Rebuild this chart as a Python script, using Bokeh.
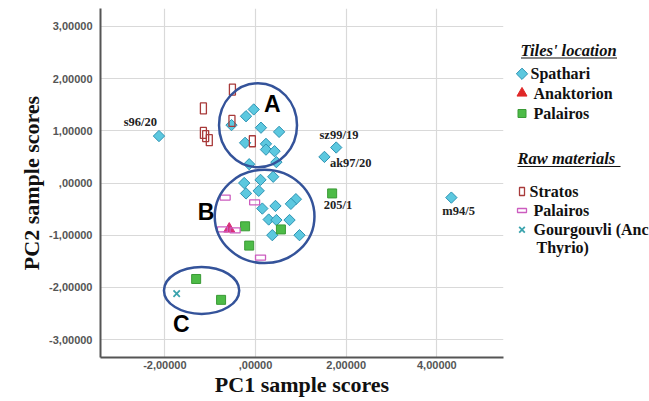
from bokeh.plotting import figure
from bokeh.layouts import row
from bokeh.models import Range1d, FixedTicker
from bokeh.core.properties import value
from bokeh.embed import file_html
from bokeh.resources import INLINE

# ---------------- data ----------------
spathari_x = [-2.13, -0.53, -0.21, -0.04, 0.12, 0.52, -0.23, 0.23, 0.23, 0.42, -0.14, 0.46,
              1.78, 1.52, 0.39, -0.25, 0.11, -0.21, 0.07, 0.89, 0.78, 0.44, 0.15, 0.29,
              0.46, 0.75, 0.37, 0.97, 4.32]
spathari_y = [0.90, 1.11, 1.28, 1.41, 1.06, 0.98, 0.77, 0.75, 0.64, 0.61, 0.36, 0.40,
              0.68, 0.50, 0.12, 0.00, 0.06, -0.20, -0.15, -0.31, -0.40, -0.44, -0.49, -0.70,
              -0.71, -0.71, -1.00, -1.00, -0.28]
anaktorion_x = [-0.58]
anaktorion_y = [-0.88]
palairos_x = [1.69, -0.23, 0.56, -0.14, -1.31, -0.76]
palairos_y = [-0.20, -0.83, -0.89, -1.20, -1.84, -2.24]

stratos_x = [-0.51, -1.15, -0.52, -1.15, -1.10, -1.02, -0.07]
stratos_y = [1.79, 1.43, 1.19, 0.96, 0.90, 0.82, 0.80]
palraw_x = [-0.67, -0.02, -0.73, -0.45, 0.11]
palraw_y = [-0.28, -0.37, -0.89, -0.91, -1.43]
gourg_x = [-1.74]
gourg_y = [-2.12]

point_names = ["s96/20", "sz99/19", "ak97/20", "205/1", "m94/5"]
point_name_x = [-2.54, 1.84, 2.10, 1.82, 4.48]
point_name_y = [1.17, 0.92, 0.38, -0.43, -0.53]

clusters = ["A", "B", "C"]
cluster_x = [0.055, 0.20, -1.19]
cluster_y = [1.108, -0.64, -2.06]
cluster_w = [1.72, 2.20, 1.66]
cluster_h = [1.61, 1.79, 0.90]
cluster_label_x = [0.37, -1.09, -1.64]
cluster_label_y = [1.52, -0.55, -2.71]

x_ticks = [-2, 0, 2, 4]
x_tick_labels = ["-2,00000", ",00000", "2,00000", "4,00000"]
y_ticks = [-3, -2, -1, 0, 1, 2, 3]
y_tick_labels = ["-3,00000", "-2,00000", "-1,00000", ",00000", "1,00000", "2,00000", "3,00000"]

legend1_title = "Tiles' location"
legend1_labels = ["Spathari", " Anaktorion", "Palairos"]
legend2_title = "Raw materials"
legend2_labels = ["Stratos", "Palairos", "Gourgouvli (Anc", "Thyrio)"]

# ---------------- styles ----------------
C_DIAM, C_DIAM_L = "#5cc8df", "#2e93b3"
C_GREEN, C_GREEN_L = "#4dbb47", "#3a9a36"
C_TRI_PLOT, C_TRI_LEG = "#d8307a", "#e02828"
C_STRATOS = "#a83a3a"
C_PALRAW = "#cc5cbf"
C_GOURG = "#3aa3ad"
C_ELL = "#34539a"
SERIF = "Liberation Serif"
SANS = "Liberation Sans"

W_MAIN, W_LEG, H = 505, 144, 401
B_TOP, B_BOTTOM = 8, 44

p = figure(width=W_MAIN, height=H, output_backend="svg", toolbar_location=None,
           x_range=Range1d(-3.42, 5.47), y_range=Range1d(-3.345, 3.345),
           min_border_left=100, min_border_right=2, min_border_top=B_TOP, min_border_bottom=B_BOTTOM)
p.outline_line_color = None
p.background_fill_color = "white"
p.border_fill_color = "white"

for ax in (p.xaxis[0], p.yaxis[0]):
    ax.major_tick_line_color = None
    ax.minor_tick_line_color = None
    ax.major_tick_out = 0
    ax.major_tick_in = 0
    ax.axis_line_color = "#555555"
    ax.axis_line_width = 2
    ax.major_label_text_font = SANS
    ax.major_label_text_font_size = "11px"
    ax.major_label_text_font_style = "bold"
    ax.major_label_text_color = "#555555"
    ax.axis_label_text_font = SERIF
    ax.axis_label_text_font_size = "22px"
    ax.axis_label_text_font_style = "bold"
    ax.axis_label_text_color = "#111111"

p.xaxis[0].ticker = FixedTicker(ticks=x_ticks)
p.xaxis[0].major_label_overrides = dict(zip(x_ticks, x_tick_labels))
p.xaxis[0].axis_label = "PC1 sample scores"
p.xaxis[0].major_label_standoff = 3
p.xaxis[0].axis_label_standoff = 0
p.yaxis[0].ticker = FixedTicker(ticks=y_ticks)
p.yaxis[0].major_label_overrides = dict(zip(y_ticks, y_tick_labels))
p.yaxis[0].axis_label = "PC2 sample scores"
p.yaxis[0].major_label_standoff = 8
p.yaxis[0].axis_label_standoff = 2

p.xgrid.grid_line_color = "#d9d9d9"
p.ygrid.grid_line_color = "#d9d9d9"
p.xgrid.grid_line_width = 1.2
p.ygrid.grid_line_width = 1.2

# tiles
p.scatter(spathari_x, spathari_y, marker="square", angle=0.7854, size=8,
          fill_color=C_DIAM, line_color=C_DIAM_L, line_width=1)
p.scatter(palairos_x, palairos_y, marker="square", size=9,
          fill_color=C_GREEN, line_color=C_GREEN_L, line_width=1)
p.scatter(anaktorion_x, anaktorion_y, marker="triangle", size=11,
          fill_color=C_TRI_PLOT, line_color=C_TRI_PLOT)
# raw materials
p.rect(stratos_x, stratos_y, width=6, height=11, width_units="screen", height_units="screen",
       fill_color=None, line_color=C_STRATOS, line_width=1.3)
p.rect(palraw_x, palraw_y, width=10, height=5, width_units="screen", height_units="screen",
       fill_color=None, line_color=C_PALRAW, line_width=1.3)
p.scatter(gourg_x, gourg_y, marker="x", size=9, line_color=C_GOURG, line_width=1.8)

# clusters
p.ellipse(cluster_x, cluster_y, width=cluster_w, height=cluster_h,
          fill_color=None, line_color=C_ELL, line_width=2.5)
p.text(cluster_label_x, cluster_label_y, text=clusters, text_font=value(SANS),
       text_font_size="23px", text_font_style="bold", text_color="#000000",
       text_align="center", text_baseline="middle")

# point labels
p.text(point_name_x, point_name_y, text=point_names, text_font=value(SERIF),
       text_font_size="12.5px", text_font_style="bold", text_color="#222222",
       text_align="center", text_baseline="middle")

# ---------------- legend panel (pixel coordinates of the page) ----------------
q = figure(width=W_LEG, height=H, output_backend="svg", toolbar_location=None,
           x_range=Range1d(0, W_LEG), y_range=Range1d(H - B_BOTTOM, B_TOP),
           min_border_left=0, min_border_right=0, min_border_top=B_TOP, min_border_bottom=B_BOTTOM)
q.axis.visible = False
q.grid.visible = False
q.outline_line_color = None
q.border_fill_color = "white"
q.background_fill_color = "white"

mx = 16.5                      # marker column
t1_y, t2_y = 50, 158
rows1 = [73.3, 92.7, 113.0]
rows2 = [191.0, 210.0, 229.3, 246.7]
tx1 = [25, 28, 28]
tx2 = [24, 28, 28, 31]

title_kw = dict(text_font=value(SERIF), text_font_size="16.5px", text_font_style="bold italic",
                text_color="#111111", text_baseline="middle", text_align="left")
q.text([15], [t1_y], text=[legend1_title], **title_kw)
q.text([12], [t2_y], text=[legend2_title], **title_kw)
q.segment([15.5], [t1_y + 7.5], [111.5], [t1_y + 7.5], line_color="#111111", line_width=1.2)
q.segment([12], [t2_y + 8], [115], [t2_y + 8], line_color="#111111", line_width=1.2)

item_kw = dict(text_font=value(SERIF), text_font_size="16px", text_font_style="bold",
               text_color="#111111", text_baseline="middle", text_align="left")
q.text(tx1, rows1, text=legend1_labels, **item_kw)
q.text(tx2, rows2, text=legend2_labels, **item_kw)

q.scatter([mx], [rows1[0]], marker="square", angle=0.7854, size=8,
          fill_color=C_DIAM, line_color=C_DIAM_L)
q.scatter([mx], [rows1[1]], marker="triangle", size=10,
          fill_color=C_TRI_LEG, line_color=C_TRI_LEG)
q.scatter([mx], [rows1[2]], marker="square", size=8,
          fill_color=C_GREEN, line_color=C_GREEN_L)
q.rect([mx], [rows2[0]], width=5, height=8, width_units="screen", height_units="screen",
       fill_color=None, line_color=C_STRATOS, line_width=1.3)
q.rect([mx], [rows2[1]], width=9, height=4, width_units="screen", height_units="screen",
       fill_color=None, line_color=C_PALRAW, line_width=1.3)
q.scatter([mx], [rows2[2]], marker="x", size=8, line_color=C_GOURG, line_width=1.8)

layout = row(p, q, spacing=0)
open("out.html", "w").write(file_html(layout, INLINE))
